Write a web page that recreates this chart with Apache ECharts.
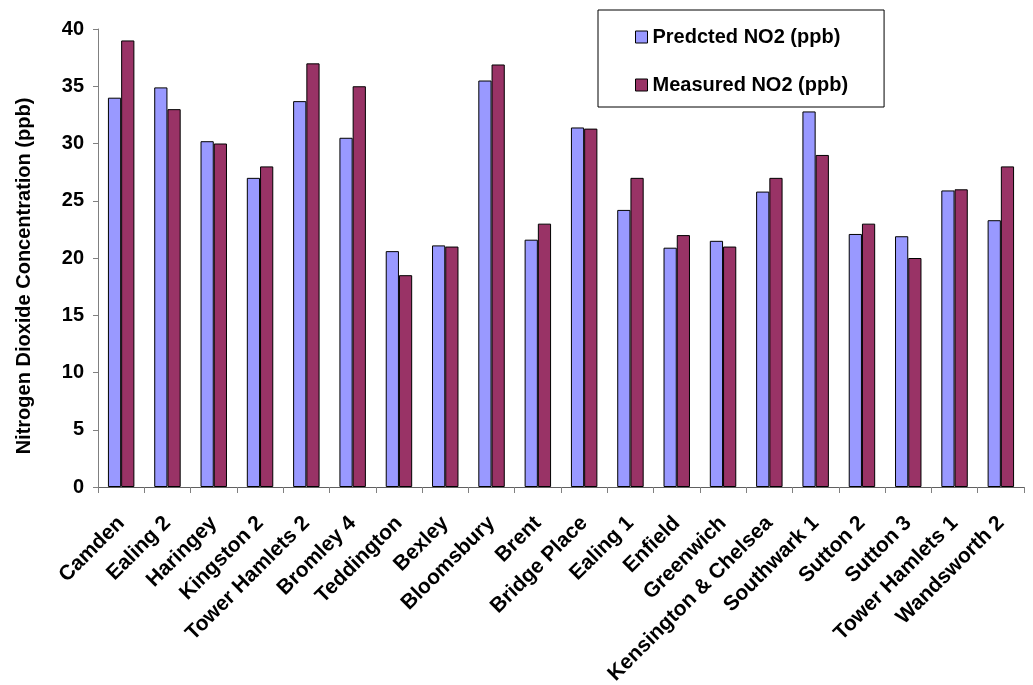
<!DOCTYPE html>
<html>
<head>
<meta charset="utf-8">
<script src="https://cdn.jsdelivr.net/npm/echarts@6/dist/echarts.min.js"></script>
<style>
  html, body { margin: 0; padding: 0; background: #fff; }
  #chart { width: 1033px; height: 685px; }
</style>
</head>
<body>
<div id="chart"></div>
<script>
// Monitoring sites
const sites = [
  'Camden', 'Ealing 2', 'Haringey', 'Kingston 2', 'Tower Hamlets 2',
  'Bromley 4', 'Teddington', 'Bexley', 'Bloomsbury', 'Brent',
  'Bridge Place', 'Ealing 1', 'Enfield', 'Greenwich', 'Kensington & Chelsea',
  'Southwark 1', 'Sutton 2', 'Sutton 3', 'Tower Hamlets 1', 'Wandsworth 2'
];

// NO2 concentrations (ppb)
const predicted = [
  34.0, 34.9, 30.2, 27.0, 33.7,
  30.5, 20.6, 21.1, 35.5, 21.6,
  31.4, 24.2, 20.9, 21.5, 25.8,
  32.8, 22.1, 21.9, 25.9, 23.3
];
const measured = [
  39, 33, 30, 28, 37,
  35, 18.5, 21, 36.9, 23,
  31.3, 27, 22, 21, 27,
  29, 23, 20, 26, 28
];

// Value axis ticks
const yMin = 0, yMax = 40, yStep = 5;

const FONT = '"Liberation Sans", Arial, sans-serif';
const chart = echarts.init(document.getElementById('chart'), null, { renderer: 'canvas' });

chart.setOption({
  backgroundColor: '#ffffff',
  animation: false,
  grid: { left: 98, right: 9, top: 29, bottom: 198, containLabel: false, outerBoundsMode: 'none' },
  legend: {
    orient: 'vertical',
    left: 598,
    top: 10,
    padding: [17, 36, 12, 37],
    itemGap: 28,
    itemWidth: 12,
    itemHeight: 12,
    icon: 'rect',
    itemStyle: { borderColor: '#000', borderWidth: 1 },
    borderColor: '#000',
    borderWidth: 1,
    backgroundColor: '#fff',
    textStyle: { fontFamily: FONT, fontWeight: 'bold', fontSize: 20, color: '#000', lineHeight: 20 },
    data: ['Predcted NO2 (ppb)', 'Measured NO2 (ppb)']
  },
  xAxis: {
    type: 'category',
    data: sites,
    boundaryGap: true,
    axisLine: { lineStyle: { color: '#606060', width: 1 } },
    axisTick: { show: true, alignWithLabel: false, length: 6, lineStyle: { color: '#808080' } },
    axisLabel: {
      interval: 0,
      rotate: 45,
      margin: 33,
      fontFamily: FONT,
      fontWeight: 'bold',
      fontSize: 21,
      color: '#000'
    }
  },
  yAxis: {
    type: 'value',
    min: yMin,
    max: yMax,
    interval: yStep,
    name: 'Nitrogen Dioxide Concentration (ppb)',
    nameLocation: 'middle',
    nameGap: 64,
    nameRotate: 90,
    nameTextStyle: { fontFamily: FONT, fontWeight: 'bold', fontSize: 20, color: '#000', padding: [0, 36, 0, 0] },
    axisLine: { show: true, lineStyle: { color: '#808080', width: 1 } },
    axisTick: { show: true, length: 5, lineStyle: { color: '#808080' } },
    splitLine: { show: false },
    axisLabel: {
      margin: 14,
      fontFamily: FONT,
      fontWeight: 'bold',
      fontSize: 20,
      color: '#000'
    }
  },
  series: [
    {
      name: 'Predcted NO2 (ppb)',
      type: 'bar',
      data: predicted,
      barGap: '0%',
      barCategoryGap: '42.86%',
      itemStyle: { color: '#9999ff', borderColor: '#000', borderWidth: 1 }
    },
    {
      name: 'Measured NO2 (ppb)',
      type: 'bar',
      data: measured,
      barGap: '0%',
      barCategoryGap: '42.86%',
      itemStyle: { color: '#993366', borderColor: '#000', borderWidth: 1 }
    }
  ]
});
</script>
</body>
</html>
